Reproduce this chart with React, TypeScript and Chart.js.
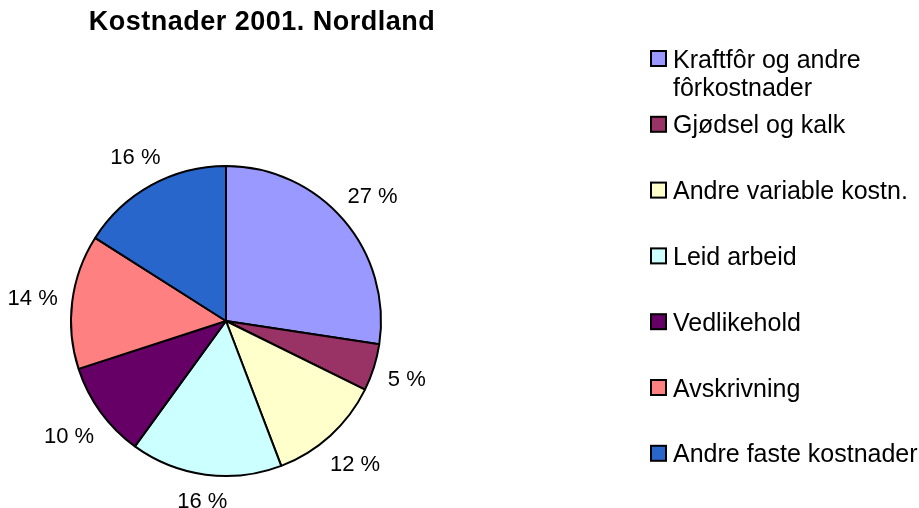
import React, { useEffect, useRef } from "react";
import { Chart, registerables } from "chart.js";

Chart.register(...registerables);

const titleText = "Kostnader 2001. Nordland";
const categories = [
  "Kraftfôr og andre\nfôrkostnader",
  "Gjødsel og kalk",
  "Andre variable kostn.",
  "Leid arbeid",
  "Vedlikehold",
  "Avskrivning",
  "Andre faste kostnader",
];
const shares = [27.4, 4.9, 11.9, 15.8, 10.0, 14.0, 16.0];
const colors = ["#9999FF", "#993366", "#FFFFCC", "#CCFFFF", "#660066", "#FF8080", "#2966CC"];

const FONT = '"Liberation Sans", Arial, sans-serif';

const overlayPlugin = {
  id: "overlay",
  afterDraw(chart: any) {
    const ctx = chart.ctx as CanvasRenderingContext2D;
    ctx.save();
    ctx.fillStyle = "#000";
    // Title
    ctx.font = `bold 27px ${FONT}`;
    (ctx as any).letterSpacing = "0.5px";
    ctx.textAlign = "center";
    ctx.textBaseline = "alphabetic";
    ctx.fillText(titleText, 262, 30);

    // Slice labels
    (ctx as any).letterSpacing = "0px";
    ctx.font = `22px ${FONT}`;
    const capH = 16;
    const meta = chart.getDatasetMeta(0);
    meta.data.forEach((arc: any, i: number) => {
      const p = arc.getProps(["x", "y", "startAngle", "endAngle", "outerRadius"], true);
      const mid = (p.startAngle + p.endAngle) / 2;
      const c = Math.cos(mid);
      const s = Math.sin(mid);
      const txt = `${Math.round(shares[i])} %`;
      const w = ctx.measureText(txt).width;
      const R = p.outerRadius + 14 + Math.abs(c) * w / 2 + Math.abs(s) * capH / 2;
      const cx = p.x + R * c;
      const cy = p.y + R * s;
      ctx.textAlign = "center";
      ctx.fillText(txt, cx, cy + capH / 2);
    });

    // Legend
    ctx.font = `25px ${FONT}`;
    (ctx as any).letterSpacing = "0px";
    ctx.textAlign = "left";
    const legX = 651;
    const top = 58.5;
    const step = 65.8;
    categories.forEach((cat, i) => {
      const yc = top + i * step;
      ctx.fillStyle = colors[i];
      ctx.fillRect(legX, yc - 7.5, 15, 15);
      ctx.lineWidth = 2;
      ctx.strokeStyle = "#000";
      ctx.strokeRect(legX, yc - 7.5, 15, 15);
      ctx.fillStyle = "#000";
      cat.split("\n").forEach((line, j) => {
        ctx.fillText(line, 673, yc + 9 + j * 28);
      });
    });
    ctx.restore();
  },
};

export default function App() {
  const ref = useRef<HTMLCanvasElement | null>(null);
  useEffect(() => {
    if (!ref.current) return;
    const chart = new Chart(ref.current, {
      type: "pie",
      data: {
        labels: categories.map((c) => c.replace("\n", " ")),
        datasets: [
          {
            data: shares,
            backgroundColor: colors,
            borderColor: "#000",
            borderWidth: 2,
          },
        ],
      },
      options: {
        responsive: false,
        animation: false,
        layout: { padding: { left: 70, top: 165, right: 537, bottom: 31 } },
        plugins: {
          legend: { display: false },
          title: { display: false },
          tooltip: { enabled: false },
        },
      },
      plugins: [overlayPlugin],
    });
    return () => chart.destroy();
  }, []);
  return (
    <div style={{ position: "fixed", left: 0, top: 0, width: 919, height: 508, background: "#fff" }}>
      <canvas ref={ref} width={919} height={508} style={{ width: 919, height: 508, display: "block" }} />
    </div>
  );
}
